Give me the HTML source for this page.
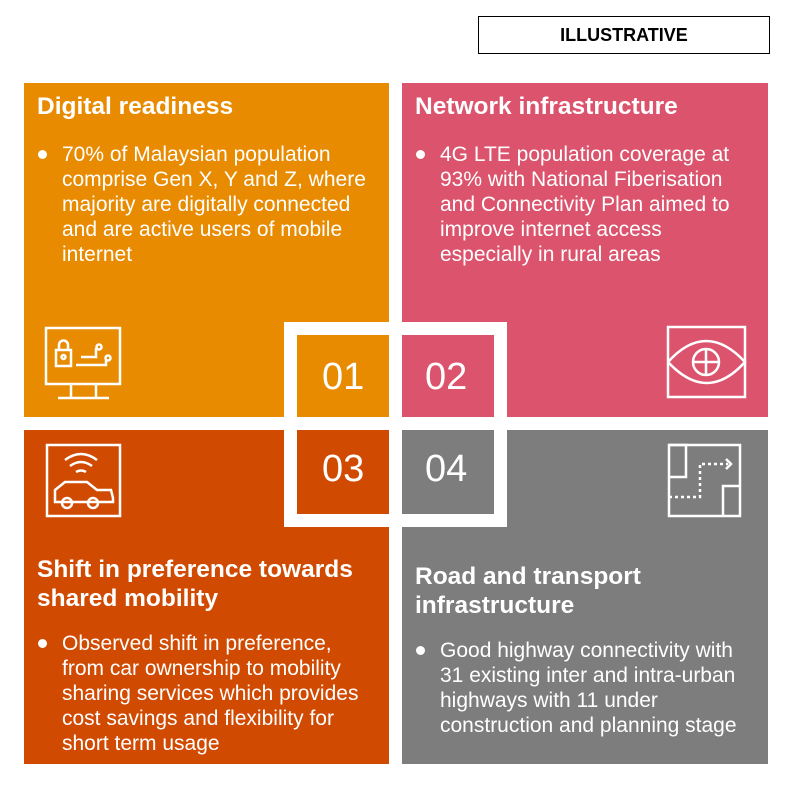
<!DOCTYPE html>
<html><head><meta charset="utf-8"><style>
body{margin:0;width:786px;height:786px;background:#fff;position:relative;overflow:hidden;font-family:"Liberation Sans",Arial,sans-serif;color:#fff}
.q{position:absolute}
.t{position:absolute;font-weight:bold;font-size:24.5px;line-height:29px;white-space:nowrap}
.b{position:absolute;font-size:21px;line-height:25px;padding-left:25px}
.b:before{content:"";position:absolute;left:1px;top:8px;width:9px;height:9px;border-radius:50%;background:#fff}
.n{position:absolute;font-size:38px;line-height:38px}
</style></head><body>
<div style="position:absolute;left:478px;top:16px;width:290px;height:36px;border:1.5px solid #000;color:#000;font-weight:bold;font-size:18px;text-align:center;line-height:36px">ILLUSTRATIVE</div>
<div class="q" style="left:24px;top:83px;width:365px;height:334px;background:#E88B00"></div>
<div class="q" style="left:402px;top:83px;width:366px;height:334px;background:#DB536C"></div>
<div class="q" style="left:24px;top:430px;width:365px;height:334px;background:#D04A02"></div>
<div class="q" style="left:402px;top:430px;width:366px;height:334px;background:#7D7D7D"></div>
<div class="q" style="left:284px;top:322px;width:197px;height:179px;border:13px solid #fff"></div>
<div class="t" style="left:37px;top:92px">Digital readiness</div>
<div class="b" style="left:37px;top:142px;width:310px">70% of Malaysian population comprise Gen X, Y and Z, where majority are digitally connected and are active users of mobile internet</div>
<div class="t" style="left:415px;top:92px">Network infrastructure</div>
<div class="b" style="left:415px;top:142px;width:310px">4G LTE population coverage at 93% with National Fiberisation and Connectivity Plan aimed to improve internet access<br>especially in rural areas</div>
<div class="t" style="left:37px;top:555px">Shift in preference towards<br>shared mobility</div>
<div class="b" style="left:37px;top:631px;width:310px">Observed shift in preference,<br>from car ownership to mobility sharing services which provides cost savings and flexibility for short term usage</div>
<div class="t" style="left:415px;top:562px">Road and transport<br>infrastructure</div>
<div class="b" style="left:415px;top:638px;width:310px">Good highway connectivity with 31 existing inter and intra-urban highways with 11 under construction and planning stage</div>
<div class="n" style="left:322px;top:358px">01</div>
<div class="n" style="left:425px;top:358px">02</div>
<div class="n" style="left:322px;top:450px">03</div>
<div class="n" style="left:425px;top:450px">04</div>
<svg style="position:absolute;left:0;top:0" width="786" height="786" fill="none" stroke="#fff" stroke-width="2.5">
<rect x="46" y="328" width="74" height="56"/><path d="M71 384v14M96 384v14M58 398h51"/>
<rect x="56" y="350" width="15" height="16"/><path d="M59 350v-5a4.5 4.5 0 0 1 9 0v5"/><circle cx="63.5" cy="357" r="2"/>
<path d="M76 365h30v-5M81 357h15v-9"/><circle cx="99" cy="347" r="2.5"/><circle cx="108" cy="358" r="2.5"/>
<rect x="668" y="327" width="77" height="70"/><path d="M668 362q38-42 77 0q-38 42-77 0"/><circle cx="706" cy="362" r="13"/><path d="M706 349v26M693 362h26"/>
<rect x="47" y="445" width="73" height="71"/>
<path d="M65 460q16-12 32 0M70 466q11-8 22 0M76 472q5-3 10 0"/>
<path d="M55 502v-12l10-8h22l10 8h14l2 8v4z"/><circle cx="67" cy="503" r="5"/><circle cx="93" cy="503" r="5"/>
<rect x="669" y="445" width="71" height="71"/><path d="M669 445h17v32h-17M740 486h-17v30"/>
<path d="M669 497h31v-33h28" stroke-dasharray="3 3"/><path d="M726 459l5 5-5 5"/>
</svg>
</body></html>
